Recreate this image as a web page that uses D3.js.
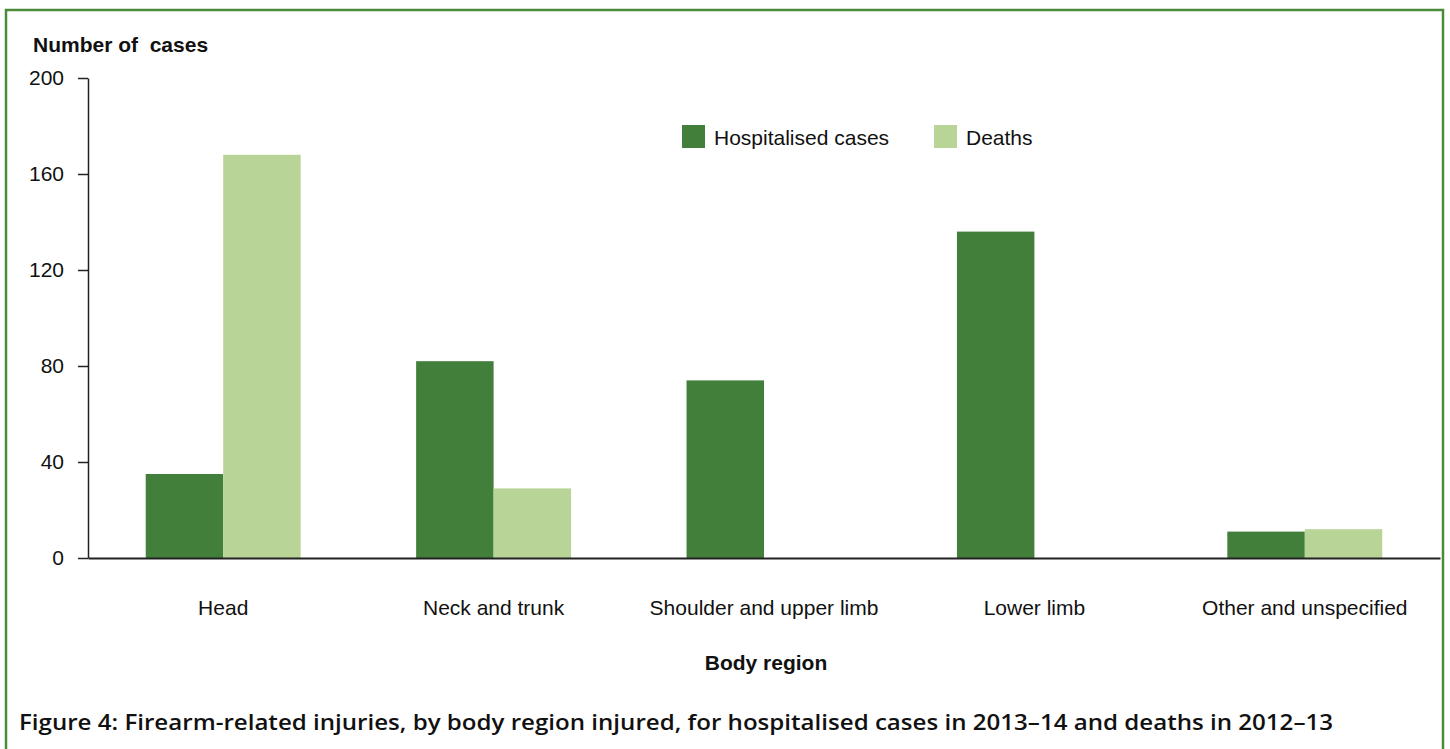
<!DOCTYPE html>
<html>
<head>
<meta charset="utf-8">
<script src="https://cdn.jsdelivr.net/npm/d3@7/dist/d3.min.js"></script>
<style>
  body { margin: 0; background: #fff; }
  text { font-family: "Liberation Sans", Arial, sans-serif; fill: #111; }
</style>
</head>
<body>
<div id="chart"></div>
<script>
const regions = ['Head', 'Neck and trunk', 'Shoulder and upper limb', 'Lower limb', 'Other and unspecified'];
const hospitalised = [35, 82, 74, 136, 11];
const deaths = [168, 29, 0, 0, 12];
const seriesNames = ['Hospitalised cases', 'Deaths'];
const seriesColors = ['#427f3a', '#b8d597'];
const yTicks = [0, 40, 80, 120, 160, 200];

const width = 1450, height = 749;
const svg = d3.select('#chart').append('svg')
    .attr('width', width)
    .attr('height', height);

// green frame
svg.append('rect')
    .attr('x', 6).attr('y', 10)
    .attr('width', 1437).attr('height', 760)
    .attr('fill', 'none')
    .attr('stroke', '#4a8a3b')
    .attr('stroke-width', 2.5);

const plotL = 88, plotR = 1440, plotT = 78, plotB = 558;
const fs = '21px';

const x = d3.scaleBand().domain(regions)
    .range([plotL, plotR])
    .paddingInner(0.427).paddingOuter(0.2135);
const xs = d3.scaleBand().domain(seriesNames)
    .range([0, x.bandwidth()]);
const y = d3.scaleLinear().domain([0, 200]).range([plotB, plotT]);

const rows = regions.map((r, i) => ({ region: r, values: [hospitalised[i], deaths[i]] }));

// bars
const groups = svg.selectAll('g.grp')
    .data(rows)
    .enter().append('g')
    .attr('class', 'grp')
    .attr('transform', d => 'translate(' + x(d.region) + ',0)');

groups.selectAll('rect')
    .data(d => d.values.map((v, k) => ({ v: v, k: k })))
    .enter().append('rect')
    .attr('x', d => xs(seriesNames[d.k]))
    .attr('width', xs.bandwidth())
    .attr('y', d => y(d.v))
    .attr('height', d => plotB - y(d.v))
    .attr('fill', d => seriesColors[d.k]);

// y axis
const yAxis = svg.append('g')
    .attr('transform', 'translate(' + plotL + ',0)')
    .call(d3.axisLeft(y).tickValues(yTicks).tickSize(10).tickPadding(14).tickSizeOuter(0));
yAxis.select('.domain').attr('stroke', '#222').attr('stroke-width', 1.5);
yAxis.selectAll('.tick line').attr('stroke', '#222').attr('stroke-width', 1.5);
yAxis.selectAll('.tick text')
    .style('font-family', '"Liberation Sans", Arial, sans-serif')
    .style('font-size', fs).attr('fill', '#111');

// x axis
const xAxis = svg.append('g')
    .attr('transform', 'translate(0,' + plotB + ')')
    .call(d3.axisBottom(x).tickSize(0).tickPadding(42).tickSizeOuter(0));
xAxis.select('.domain').attr('stroke', '#222').attr('stroke-width', 2);
xAxis.selectAll('.tick text')
    .style('font-family', '"Liberation Sans", Arial, sans-serif')
    .style('font-size', fs).attr('fill', '#111');

// axis titles
svg.append('text')
    .attr('x', 33).attr('y', 52)
    .style('font-size', fs).style('font-weight', 'bold')
    .style('white-space', 'pre')
    .text('Number of  cases');

svg.append('text')
    .attr('x', 766).attr('y', 670)
    .attr('text-anchor', 'middle')
    .style('font-size', fs).style('font-weight', 'bold')
    .text('Body region');

// legend
const legendX = [682, 934];
const legend = svg.selectAll('g.leg')
    .data(seriesNames)
    .enter().append('g')
    .attr('class', 'leg')
    .attr('transform', (d, i) => 'translate(' + legendX[i] + ',125)');
legend.append('rect')
    .attr('width', 23).attr('height', 23)
    .attr('fill', (d, i) => seriesColors[i]);
legend.append('text')
    .attr('x', 32).attr('y', 19.5)
    .style('font-size', fs)
    .text(d => d);

// caption
svg.append('text')
    .attr('x', 19).attr('y', 730)
    .attr('textLength', 1314)
    .attr('lengthAdjust', 'spacingAndGlyphs')
    .style('font-family', '"Open Sans", sans-serif')
    .style('font-size', '22px').style('font-weight', 600)
    .attr('fill', '#1a1a1a')
    .text('Figure 4: Firearm-related injuries, by body region injured, for hospitalised cases in 2013\u201314 and deaths in 2012\u201313');
</script>
</body>
</html>
